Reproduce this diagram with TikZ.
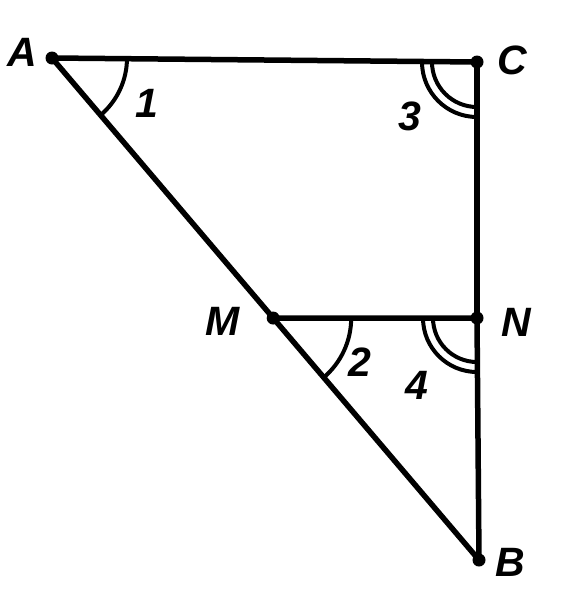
\documentclass[tikz,border=0pt]{standalone}
\usepackage{fontspec}
\setmainfont{Liberation Sans}
\usetikzlibrary{calc}
\begin{document}
\begin{tikzpicture}[x=1pt,y=-1pt,
  seg/.style={line width=5.5pt,line cap=round},
  arcline/.style={line width=4pt},
  dotpt/.style={circle,fill=black,inner sep=0pt,minimum size=13pt},
  lbl/.style={font=\fontsize{41}{41}\selectfont\bfseries\itshape,inner sep=0pt}]
\useasboundingbox (0,0) rectangle (575,592);
\coordinate (A) at (52,58);
\coordinate (C) at (477,62);
\coordinate (B) at (479,560);
\coordinate (M) at ($(A)!0.518!(B)$);
\coordinate (N) at (477,318);
\draw[seg] (A) -- (C);
\draw[seg] (C) -- (N);
\draw[seg] (N) -- (B);
\draw[seg] (A) -- (B);
\draw[seg] (M) -- (N);
% angle arcs
\draw[arcline] ([shift={(0:75)}]A) arc[start angle=0,end angle=49.6,radius=75];
\draw[arcline] ([shift={(0:78)}]M) arc[start angle=0,end angle=49.6,radius=78];
\draw[arcline] ([shift={(180:55)}]C) arc[start angle=180,end angle=90,radius=55];
\draw[arcline] ([shift={(180:45)}]C) arc[start angle=180,end angle=90,radius=45];
\draw[arcline] ([shift={(180:54)}]N) arc[start angle=180,end angle=90,radius=54];
\draw[arcline] ([shift={(180:44)}]N) arc[start angle=180,end angle=90,radius=44];
% points
\node[dotpt] (dA) at (A) {};
\node[dotpt] (dC) at (C) {};
\node[dotpt] (dN) at (N) {};
\node[dotpt] (dM) at (M) {};
\node[dotpt] (dB) at (B) {};
% labels
\node[lbl] (lA) at (22,52) {A};
\node[lbl] (lC) at (512,60) {C};
\node[lbl] (lM) at (223,321) {M};
\node[lbl] (lN) at (516,322) {N};
\node[lbl] (lB) at (510,562) {B};
\node[lbl] (l1) at (147,103) {1};
\node[lbl] (l3) at (410,116) {3};
\node[lbl] (l2) at (360,362) {2};
\node[lbl] (l4) at (417,385) {4};
\end{tikzpicture}
\end{document}
